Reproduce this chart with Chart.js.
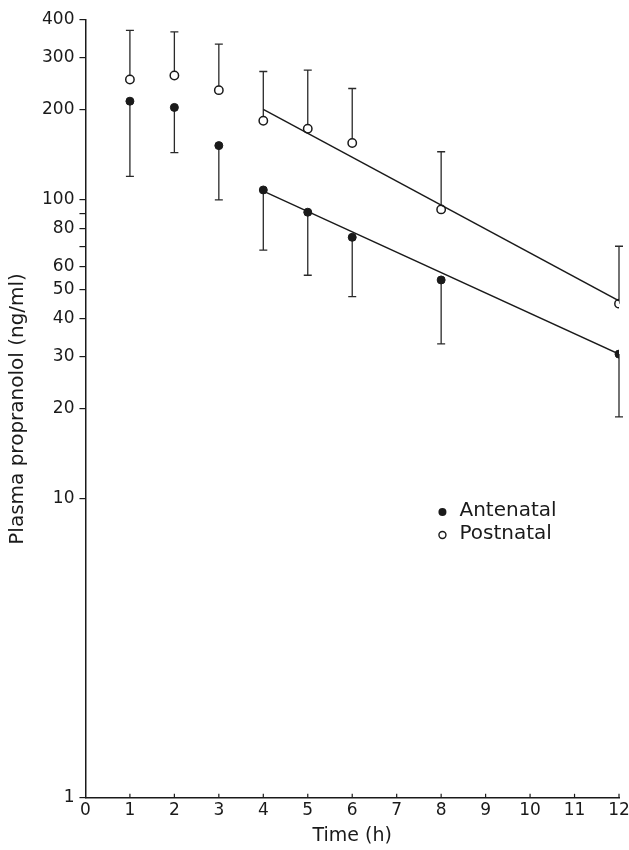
<!DOCTYPE html>
<html>
<head>
<meta charset="utf-8">
<script src="https://cdn.jsdelivr.net/npm/chart.js@4.4.1/dist/chart.umd.min.js"></script>
<style>
  html, body { margin: 0; padding: 0; background: #fff; }
  #wrap { width: 629px; height: 850px; }
</style>
</head>
<body>
<div id="wrap"><canvas id="chart"></canvas></div>
<script>
// time points (h)
const hours = [1, 2, 3, 4, 5, 6, 8, 12];
// mean plasma propranolol (ng/ml)
const antenatal = [214, 204, 152, 108, 91, 75, 54, 30.5];
const antenatalLow = [120, 144, 100, 68, 56, 47.5, 33, 18.8];
const postnatal = [253, 261, 233, 184, 173, 155, 93, 45];
const postnatalHigh = [369, 365, 332, 269, 272, 236, 145, 70];
// fitted elimination lines
const fitHours = [4, 12];
const antenatalFit = [107, 30.5];
const postnatalFit = [201, 46];
// axis ticks
const xTicks = [0, 1, 2, 3, 4, 5, 6, 7, 8, 9, 10, 11, 12];
const yTicks = [1, 10, 20, 30, 40, 50, 60, 70, 80, 90, 100, 200, 300, 400];
const yLabelled = [1, 10, 20, 30, 40, 50, 60, 80, 100, 200, 300, 400];
const legendNames = ["Antenatal", "Postnatal"];

const ink = "#1a1a1a";
const fontFamily = "'DejaVu Sans', 'Liberation Sans', sans-serif";

function toPoints(xs, ys) {
  return xs.map((x, i) => ({ x: x, y: ys[i] }));
}

// error bars: antenatal downwards, postnatal upwards
const errorBars = {
  id: "errorBars",
  beforeDatasetsDraw(chart) {
    const { ctx, scales } = chart;
    const sets = [
      { mean: antenatal, end: antenatalLow },
      { mean: postnatal, end: postnatalHigh },
    ];
    ctx.save();
    ctx.strokeStyle = "#2a2a2a";
    ctx.lineWidth = 1.3;
    sets.forEach((s) => {
      hours.forEach((h, i) => {
        const x = scales.x.getPixelForValue(h);
        const y0 = scales.y.getPixelForValue(s.mean[i]);
        const y1 = scales.y.getPixelForValue(s.end[i]);
        ctx.beginPath();
        ctx.moveTo(x, y0);
        ctx.lineTo(x, y1);
        ctx.moveTo(x - 4, y1);
        ctx.lineTo(x + 4, y1);
        ctx.stroke();
      });
    });
    ctx.restore();
  },
  afterDraw(chart) {
    const { ctx, scales, chartArea } = chart;
    ctx.save();
    // inward ticks on the time axis
    ctx.strokeStyle = ink;
    ctx.lineWidth = 1.2;
    xTicks.slice(1).forEach((t) => {
      const x = scales.x.getPixelForValue(t);
      ctx.beginPath();
      ctx.moveTo(x, chartArea.bottom);
      ctx.lineTo(x, chartArea.bottom - 4);
      ctx.stroke();
    });
    // legend inside the plot
    const lx = chartArea.left + 357;
    const ly = chartArea.top + 492;
    ctx.font = "20px " + fontFamily;
    ctx.textBaseline = "middle";
    ctx.fillStyle = ink;
    legendNames.forEach((name, i) => {
      const y = ly + i * 23;
      ctx.beginPath();
      ctx.arc(lx, y, i === 0 ? 4 : 3.5, 0, Math.PI * 2);
      if (i === 0) {
        ctx.fill();
      } else {
        ctx.fillStyle = "#fff";
        ctx.fill();
        ctx.lineWidth = 1.4;
        ctx.stroke();
        ctx.fillStyle = ink;
      }
      ctx.fillText(name, lx + 17, y - 1);
    });
    ctx.restore();
  },
};

const ctx = document.getElementById("chart").getContext("2d");
new Chart(ctx, {
  type: "scatter",
  data: {
    datasets: [
      {
        label: "Antenatal fit",
        type: "line",
        data: toPoints(fitHours, antenatalFit),
        borderColor: ink,
        borderWidth: 1.4,
        pointRadius: 0,
        fill: false,
      },
      {
        label: "Postnatal fit",
        type: "line",
        data: toPoints(fitHours, postnatalFit),
        borderColor: ink,
        borderWidth: 1.4,
        pointRadius: 0,
        fill: false,
      },
      {
        label: "Antenatal",
        data: toPoints(hours, antenatal),
        pointRadius: 4,
        pointBackgroundColor: ink,
        pointBorderColor: ink,
        pointBorderWidth: 1,
      },
      {
        label: "Postnatal",
        data: toPoints(hours, postnatal),
        pointRadius: 4.2,
        pointBackgroundColor: "#fff",
        pointBorderColor: ink,
        pointBorderWidth: 1.5,
      },
    ],
  },
  options: {
    responsive: true,
    maintainAspectRatio: false,
    animation: false,
    layout: {
      padding: { top: 20, right: 0, left: 6, bottom: 3 },
    },
    plugins: {
      legend: { display: false },
      tooltip: { enabled: false },
    },
    scales: {
      x: {
        type: "linear",
        min: 0,
        max: 12,
        afterBuildTicks: (scale) => {
          scale.ticks = xTicks.map((v) => ({ value: v }));
        },
        afterFit: (scale) => {
          scale.paddingRight = 10;
        },
        ticks: {
          color: ink,
          font: { family: fontFamily, size: 17 },
          padding: 3,
          autoSkip: false,
          maxRotation: 0,
        },
        grid: { drawOnChartArea: false, drawTicks: false },
        border: { color: ink, width: 1.5 },
        title: {
          display: true,
          text: "Time (h)",
          color: ink,
          font: { family: fontFamily, size: 19 },
          padding: { top: 0, bottom: 0 },
        },
      },
      y: {
        type: "logarithmic",
        min: 1,
        max: 400,
        afterBuildTicks: (scale) => {
          scale.ticks = yTicks.map((v) => ({ value: v }));
        },
        ticks: {
          color: ink,
          font: { family: fontFamily, size: 17 },
          padding: 5,
          autoSkip: false,
          callback: (v) => (yLabelled.includes(v) ? String(v) : ""),
        },
        grid: {
          drawOnChartArea: false,
          drawTicks: true,
          tickLength: 6,
          color: ink,
          lineWidth: 1.2,
        },
        border: { color: ink, width: 1.5 },
        title: {
          display: true,
          text: "Plasma propranolol (ng/ml)",
          color: ink,
          font: { family: fontFamily, size: 20 },
          padding: { top: 0, bottom: 7 },
        },
      },
    },
  },
  plugins: [errorBars],
});
</script>
</body>
</html>
